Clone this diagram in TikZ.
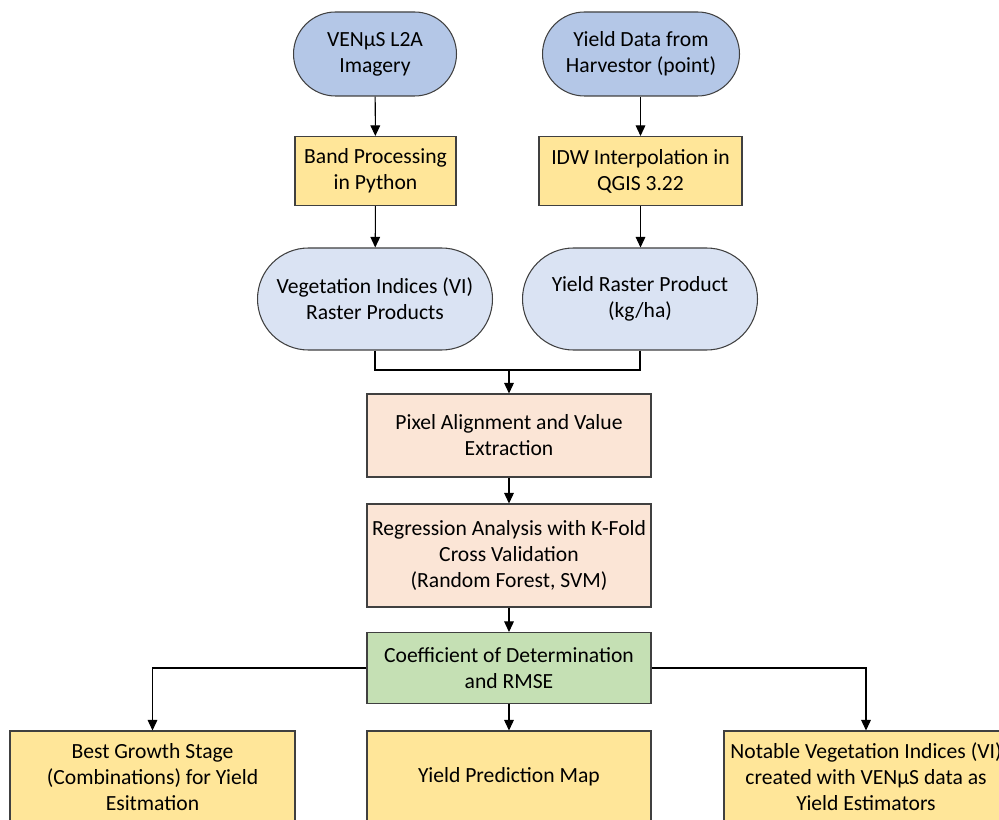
\documentclass[tikz,border=0pt]{standalone}
\usepackage{fontspec}
\setmainfont{Carlito}
\usepackage{xcolor}
\usetikzlibrary{arrows.meta, shapes.misc, positioning}

\definecolor{inblue}{HTML}{B4C7E7}
\definecolor{outblue}{HTML}{DAE3F3}
\definecolor{procyellow}{HTML}{FFE699}
\definecolor{anapeach}{HTML}{FBE5D6}
\definecolor{resgreen}{HTML}{C5E0B4}
\definecolor{edgegray}{HTML}{404040}

\newdimen\pxu
\pxu=0.02cm

\tikzset{
  base/.style={draw=edgegray, line width=0.6pt, align=center, inner sep=2pt,
               font=\fontsize{12.3}{14.8}\selectfont},
  datain/.style={base, rounded rectangle, fill=inblue},
  dataout/.style={base, rounded rectangle, fill=outblue},
  procbox/.style={base, rectangle, fill=procyellow},
  anabox/.style={base, rectangle, fill=anapeach},
  resbox/.style={base, rectangle, fill=resgreen},
  flow/.style={line width=0.6pt, -{Triangle[width=5.5pt,length=6pt]}},
  joinline/.style={line width=0.6pt}
}

\begin{document}
\begin{tikzpicture}[x=0.02cm, y=-0.02cm]
  \useasboundingbox (0,0) rectangle (999,820);

  % Eingangsdaten
  \node[datain, minimum width=170\pxu, minimum height=84\pxu] (venus) at (375,54)
      {VENµS L2A\\Imagery};
  \node[datain, minimum width=204\pxu, minimum height=84\pxu] (yielddata) at (641,54)
      {Yield Data from\\Harvestor (point)};

  % Vorverarbeitung
  \node[procbox, minimum width=161\pxu, minimum height=69\pxu] (band) at (375.5,171)
      {Band Processing\\in Python};
  \node[procbox, minimum width=203\pxu, minimum height=69\pxu] (idw) at (640.5,171)
      {IDW Interpolation in\\QGIS 3.22};

  % Raster
  \node[dataout, minimum width=242\pxu, minimum height=102\pxu] (vi) at (375,299)
      {Vegetation Indices (VI)\\Raster Products};
  \node[dataout, minimum width=242\pxu, minimum height=102\pxu] (yraster) at (640,299)
      {Yield Raster Product\\(kg/ha)};

  % Analyse
  \node[anabox, minimum width=284\pxu, minimum height=83\pxu] (pixel) at (509,435.5)
      {Pixel Alignment and Value\\Extraction};
  \node[anabox, minimum width=284\pxu, minimum height=103\pxu] (regr) at (509,555.5)
      {Regression Analysis with K-Fold\\Cross Validation\\(Random Forest, SVM)};
  \node[resbox, minimum width=284\pxu, minimum height=71\pxu] (coef) at (509,668)
      {Coefficient of Determination\\and RMSE};

  % Ergebnisse
  \node[procbox, minimum width=285\pxu, minimum height=92\pxu] (stage) at (152.5,777)
      {Best Growth Stage\\(Combinations) for Yield\\Esitmation};
  \node[procbox, minimum width=284\pxu, minimum height=92\pxu] (predmap) at (509,777)
      {Yield Prediction Map};
  \node[procbox, minimum width=284\pxu, minimum height=92\pxu] (notable) at (866,777)
      {Notable Vegetation Indices (VI)\\created with VENµS data as\\Yield Estimators};

  % Verbindungen
  \draw[flow] (venus) -- (band);
  \draw[flow] (yielddata.south -| idw.north) -- (idw.north);
  \draw[flow] (band) -- (vi);
  \draw[flow] (idw.south) -- (idw.south |- yraster.north);
  \coordinate (merge) at (509,370);
  \draw[joinline] (vi.south) |- (merge);
  \draw[joinline] (yraster.south) |- (merge);
  \draw[flow] (merge) -- (pixel);
  \draw[flow] (pixel) -- (regr);
  \draw[flow] (regr) -- (coef);
  \draw[flow] (coef.west) -| (stage.north);
  \draw[flow] (coef) -- (predmap);
  \draw[flow] (coef.east) -| (notable.north);
\end{tikzpicture}
\end{document}
